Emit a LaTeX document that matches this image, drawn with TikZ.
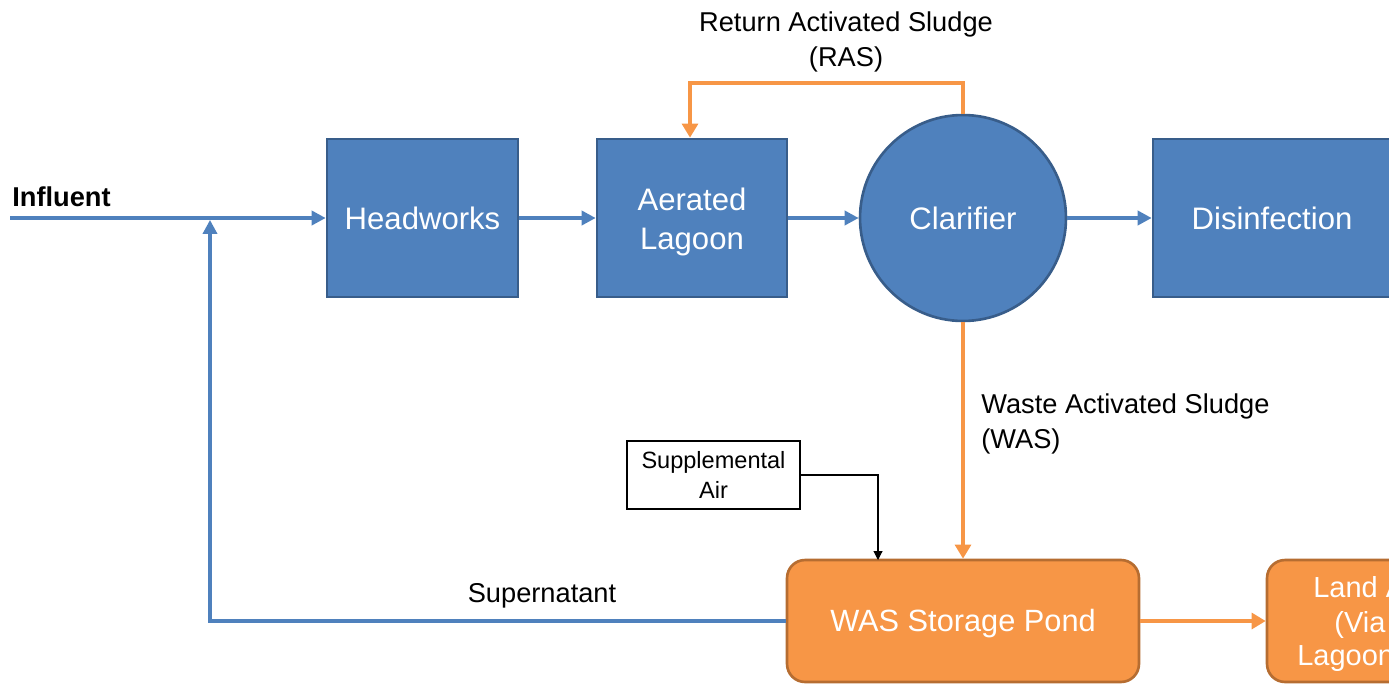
\documentclass[tikz,border=0pt]{standalone}
\usepackage{fontspec}
\setmainfont{Liberation Sans}
\usetikzlibrary{arrows.meta}
\definecolor{bfill}{HTML}{4F81BD}
\definecolor{bdraw}{HTML}{385D8A}
\definecolor{ofill}{HTML}{F79646}
\definecolor{odraw}{HTML}{B66D31}
\tikzset{
  bluebox/.style={rectangle, fill=bfill, draw=bdraw, line width=1.5pt, text=white, font=\fontsize{17.7}{22}\selectfont, align=center, inner sep=0pt},
  orangebox/.style={rectangle, rounded corners=0.36cm, fill=ofill, draw=odraw, line width=1.5pt, text=white, font=\fontsize{17.5}{19}\selectfont, align=center, inner sep=0pt},
  boxtext/.style={text=white, align=center, inner sep=0pt},
  blueflow/.style={draw=bfill, line width=2.2pt, -{Triangle[length=8pt,width=8pt]}},
  orangeflow/.style={draw=ofill, line width=2.8pt, -{Triangle[length=8pt,width=9pt]}},
  thinflow/.style={draw=black, line width=0.6pt, -{Triangle[length=5pt,width=5pt]}},
  lbl/.style={font=\fontsize{15.5}{19.5}\selectfont, inner sep=0pt}
}
\begin{document}
\begin{tikzpicture}[x=0.02cm,y=-0.02cm]
\useasboundingbox (0,0) rectangle (1389,683);
\clip (0,0) rectangle (1389,683);
% nodes
\node[bluebox, minimum width=3.82cm, minimum height=3.16cm] (head) at (422.5,218) {Headworks};
\node[bluebox, minimum width=3.8cm, minimum height=3.16cm] (aer) at (692,218) {};
\node[boxtext, font=\fontsize{17.7}{22}\selectfont] (aertxt) at (692,222) {Aerated\\Lagoon};
\node[bluebox, circle, minimum size=4.12cm] (clar) at (963,218) {Clarifier};
\node[bluebox, minimum width=4.76cm, minimum height=3.16cm] (dis) at (1272,218) {Disinfection};
\node[orangebox, minimum width=7.04cm, minimum height=2.44cm] (pond) at (963,621) {};
\node[boxtext, font=\fontsize{17.5}{19}\selectfont] (pondtxt) at (963,624) {WAS Storage Pond};
\node[orangebox, minimum width=5.64cm, minimum height=2.44cm] (land) at (1408,621) {};
\node[text=white, font=\fontsize{16.5}{21}\selectfont, anchor=base west, inner sep=0pt] (landa) at (1313,597) {Land A};
\node[text=white, font=\fontsize{16.5}{21}\selectfont, anchor=base west, inner sep=0pt] (landb) at (1334,632) {(Via};
\node[text=white, font=\fontsize{16.5}{21}\selectfont, anchor=base west, inner sep=0pt] (landc) at (1297,665) {Lagoon};
\node[draw=black, line width=0.6pt, fill=white, minimum width=3.46cm, minimum height=1.36cm, align=center, font=\fontsize{13.4}{17}\selectfont, inner sep=0pt] (sup) at (713.5,475) {Supplemental\\Air};
% coordinates
\coordinate (start) at (10,218);
\coordinate (junc) at (210,218);
\coordinate (ras) at (690,83);
\coordinate (sa) at (878,560);
% labels
\node[lbl, font=\bfseries\fontsize{15.5}{19.5}\selectfont, anchor=west] (infl) at (12,197) {Influent};
\node[lbl, align=center] (raslbl) at (846,42) {Return Activated Sludge\\(RAS)};
\node[lbl, align=left, anchor=west] (waslbl) at (981,424) {Waste Activated Sludge\\(WAS)};
\node[lbl] (supn) at (542,596) {Supernatant};
% connectors
\draw[blueflow] (start) -- (head.west);
\draw[blueflow] (head.east) -- (aer.west);
\draw[blueflow] (aer.east) -- (clar.west);
\draw[blueflow] (clar.east) -- (dis.west);
\draw[blueflow] (pond.west) -| ([yshift=-1.1pt]junc);
\draw[orangeflow] (clar.north) |- (ras) -- (ras |- aer.north);
\draw[orangeflow] (clar.south) -- (pond.north);
\draw[orangeflow] (pond.east) -- (land.west);
\draw[thinflow] (sup.east) -| (sa);
\end{tikzpicture}
\end{document}
